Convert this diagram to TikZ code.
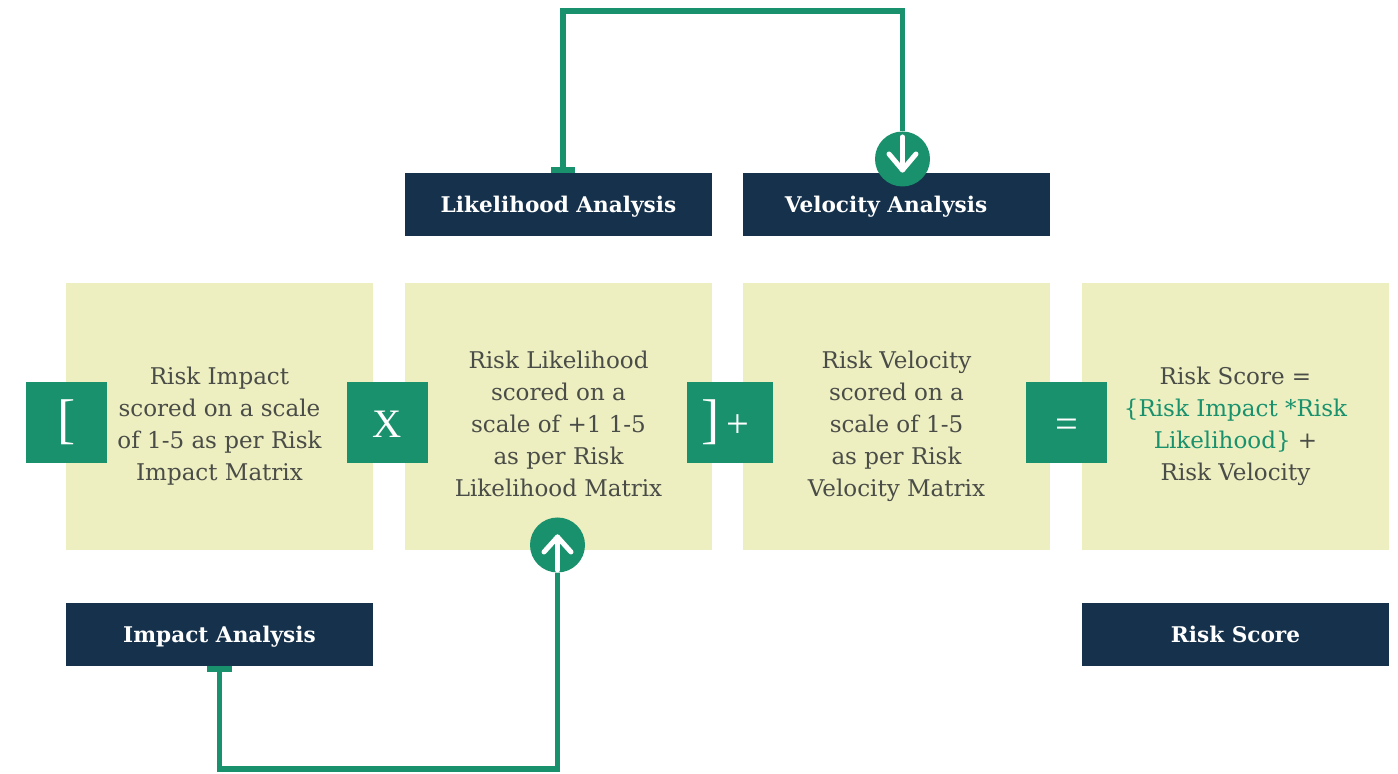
\documentclass[tikz,border=0pt]{standalone}
\usepackage{fontspec}
\setmainfont{DejaVu Serif}
\newfontfamily\opfont{Liberation Serif}
\usetikzlibrary{arrows.meta}
\definecolor{riskgreen}{HTML}{19916D}
\definecolor{risknavy}{HTML}{15314B}
\definecolor{riskpale}{HTML}{EDEFC1}
\definecolor{riskgrey}{HTML}{4A4C47}
\tikzset{
  palebox/.style={fill=riskpale, minimum width=6.14cm, minimum height=5.34cm, inner sep=0pt},
  palelabel/.style={text=riskgrey, align=center, font=\fontsize{13.1}{18.2}\selectfont, inner sep=0pt},
  navybox/.style={fill=risknavy, text=white, minimum width=6.14cm, minimum height=1.26cm, inner sep=0pt, text height=9.6pt, text depth=1pt, font=\fontsize{12.3}{14}\selectfont\bfseries},
  opbox/.style={fill=riskgreen, text=white, minimum width=1.62cm, minimum height=1.62cm, inner sep=0pt, text height=17.6pt, text depth=0pt, font=\opfont\fontsize{23}{23}\selectfont},
  flowcircle/.style={circle, fill=riskgreen, minimum size=1.1cm, inner sep=0pt},
  flowline/.style={draw=riskgreen, line width=0.11cm},
  markline/.style={draw=white, line width=0.1cm, line cap=round, line join=round}
}
\begin{document}
\begin{tikzpicture}
\useasboundingbox (0,0) rectangle (27.96,15.48);

% score boxes
\node[palebox] (impactbox) at (4.39,7.15) {};
\node[palebox] (likelihoodbox) at (11.17,7.15) {};
\node[palebox] (velocitybox) at (17.93,7.15) {};
\node[palebox] (scorebox) at (24.71,7.15) {};

\node[palelabel] (impacttext) at (4.39,6.96) {Risk Impact\\scored on a scale\\of 1-5 as per Risk\\Impact Matrix};
\node[palelabel] (likelihoodtext) at (11.17,7.0) {Risk Likelihood\\scored on a\\scale of +1 1-5\\as per Risk\\Likelihood Matrix};
\node[palelabel] (velocitytext) at (17.93,6.96) {Risk Velocity\\scored on a\\scale of 1-5\\as per Risk\\Velocity Matrix};
\node[palelabel] (scoretext) at (24.71,6.96) {Risk Score =\\\textcolor{riskgreen}{\{Risk Impact *Risk}\\\textcolor{riskgreen}{Likelihood\}} +\\Risk Velocity};

% operators
\node[opbox, font=\opfont\fontsize{31}{31}\selectfont] (openop) at (1.33,7.03) {[};
\node[opbox] (timesop) at (7.75,7.03) {X};
\node[opbox, minimum width=1.72cm] (plusop) at (14.6,7.03) {{\fontsize{31}{31}\selectfont]}\,+\hspace*{0.2cm}};
\node[opbox] (equalsop) at (21.33,7.03) {=};

% analysis labels
\node[navybox] (likelihoodlabel) at (11.17,11.39) {Likelihood Analysis};
\node[navybox] (velocitylabel) at (17.93,11.39) {Velocity Analysis\hspace*{0.42cm}};
\node[navybox] (impactlabel) at (4.39,2.79) {Impact Analysis};
\node[navybox] (scorelabel) at (24.71,2.79) {Risk Score};

% connectors
\coordinate (topturn) at (18.05,15.26);
\coordinate (bottomturn) at (11.15,0.10);
\node[flowcircle] (velocitycircle) at (18.05,12.30) {};
\node[flowcircle] (likelihoodcircle) at (11.15,4.58) {};
\draw[flowline, {Bar[width=0.48cm]}-] ([xshift=0.09cm]likelihoodlabel.north) |- (topturn) -- (velocitycircle.north);
\draw[flowline, {Bar[width=0.5cm]}-] (impactlabel.south) |- (bottomturn) -- (likelihoodcircle.south);

% arrows in the circles
\draw[markline] ([yshift=0.44cm]velocitycircle.center) -- ([yshift=-0.22cm]velocitycircle.center);
\draw[markline] ([xshift=-0.27cm,yshift=0.10cm]velocitycircle.center) -- ([yshift=-0.22cm]velocitycircle.center) -- ([xshift=0.27cm,yshift=0.10cm]velocitycircle.center);
\draw[markline] ([yshift=-0.5cm]likelihoodcircle.center) -- ([yshift=0.16cm]likelihoodcircle.center);
\draw[markline] ([xshift=-0.27cm,yshift=-0.14cm]likelihoodcircle.center) -- ([yshift=0.16cm]likelihoodcircle.center) -- ([xshift=0.27cm,yshift=-0.14cm]likelihoodcircle.center);

\end{tikzpicture}
\end{document}
